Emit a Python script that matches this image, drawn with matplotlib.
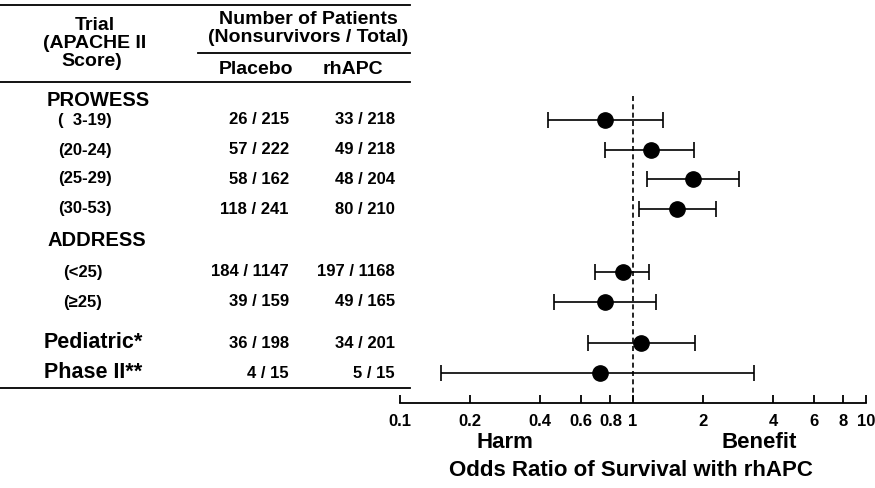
import matplotlib.pyplot as plt
import numpy as np

plt.rcParams['font.family'] = ['Liberation Sans', 'DejaVu Sans']
plt.rcParams['font.weight'] = 'bold'

# Data
labels = ['(  3-19)', '(20-24)', '(25-29)', '(30-53)', '(<25)', '(\u226525)',
          'Pediatric*', 'Phase II**']
placebo = ['26 / 215', '57 / 222', '58 / 162', '118 / 241',
           '184 / 1147', '39 / 159', '36 / 198', '4 / 15']
rhapc = ['33 / 218', '49 / 218', '48 / 204', '80 / 210',
         '197 / 1168', '49 / 165', '34 / 201', '5 / 15']
odds = [0.76, 1.19, 1.81, 1.55, 0.91, 0.76, 1.08, 0.72]
ci_low = [0.43, 0.76, 1.15, 1.06, 0.69, 0.46, 0.64, 0.15]
ci_high = [1.34, 1.83, 2.85, 2.26, 1.17, 1.25, 1.85, 3.31]
ticks = [0.1, 0.2, 0.4, 0.6, 0.8, 1, 2, 4, 6, 8, 10]
tick_labels = ['0.1', '0.2', '0.4', '0.6', '0.8', '1', '2', '4', '6', '8', '10']

# layout (pixel rows from top of figure)
row_y = [120, 150, 179, 209, 272, 302, 343, 373]
label_x = [58, 58, 58, 58, 63, 63, 44, 44]
label_size = [12, 12, 12, 12, 12, 12, 15.5, 15.5]

W, H = 875, 488
fig = plt.figure(figsize=(W / 100, H / 100), dpi=100)

# table axes in pixel units
tab = fig.add_axes([0, 0, 1, 1])
tab.set_xlim(0, W)
tab.set_ylim(H, 0)
tab.axis('off')

for y, x0, x1 in [(5, 0, 410), (53, 198, 410), (82, 0, 410), (388, 0, 410)]:
    tab.plot([x0, x1], [y, y], color='black', lw=1.3)

tab.text(95, 25, 'Trial', ha='center', va='center', fontsize=14)
tab.text(95, 43, '(APACHE II', ha='center', va='center', fontsize=14)
tab.text(92, 61, 'Score)', ha='center', va='center', fontsize=14)
tab.text(308, 20, 'Number of Patients', ha='center', va='center', fontsize=14)
tab.text(308, 38, '(Nonsurvivors / Total)', ha='center', va='center', fontsize=14)
tab.text(256, 70, 'Placebo', ha='center', va='center', fontsize=14)
tab.text(353, 70, 'rhAPC', ha='center', va='center', fontsize=14)
tab.text(47, 100, 'PROWESS', ha='left', va='center', fontsize=14.5)
tab.text(47, 241, 'ADDRESS', ha='left', va='center', fontsize=14.5)

for i, y in enumerate(row_y):
    tab.text(label_x[i], y, labels[i], ha='left', va='center', fontsize=label_size[i])
    tab.text(289, y, placebo[i], ha='right', va='center', fontsize=12)
    tab.text(395, y, rhapc[i], ha='right', va='center', fontsize=12)

# forest plot axes: y in pixel units, x log odds ratio
ax = fig.add_axes([400 / W, (H - 403) / H, 466 / W, 403 / H])
ax.patch.set_alpha(0)
ax.set_xscale('log')
ax.set_xlim(0.1, 10)
ax.set_ylim(403, 0)

err = [np.array(odds) - np.array(ci_low), np.array(ci_high) - np.array(odds)]
ax.errorbar(odds, row_y, xerr=err, fmt='o', color='black', ms=11,
            elinewidth=1.2, capsize=5.5, capthick=1.2)
ax.plot([1, 1], [96, 403], color='black', lw=1.2, ls=(0, (3, 2)))

for s in ['top', 'right', 'left']:
    ax.spines[s].set_visible(False)
ax.spines['bottom'].set_linewidth(1.3)
ax.set_yticks([])
ax.set_xticks(ticks)
ax.set_xticklabels(tick_labels, fontsize=12, fontweight='bold')
ax.xaxis.set_minor_locator(plt.NullLocator())
ax.tick_params(axis='x', direction='in', length=6, width=1.3, pad=8)

tab.text(505, 442, 'Harm', ha='center', va='center', fontsize=16)
tab.text(759, 442, 'Benefit', ha='center', va='center', fontsize=16)
tab.text(631, 470, 'Odds Ratio of Survival with rhAPC', ha='center', va='center',
         fontsize=16)

fig.savefig('out.png', dpi=100)
